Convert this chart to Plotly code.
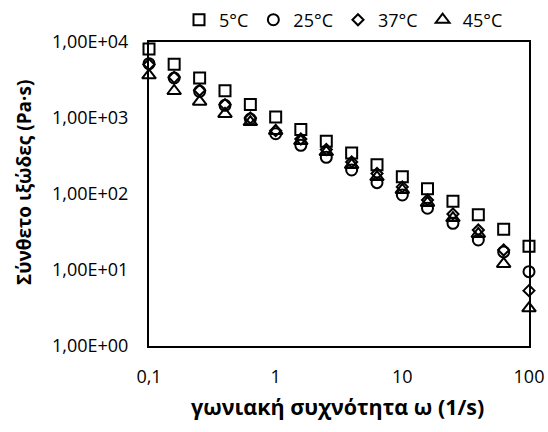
import plotly.graph_objects as go

# Angular frequency (1/s), five points per decade
freq = [0.1, 0.158, 0.251, 0.398, 0.631, 1.0, 1.58, 2.51, 3.98, 6.31,
        10.0, 15.8, 25.1, 39.8, 63.1, 100.0]

# Complex viscosity (Pa·s) at each temperature
eta_5 = [8090, 5090, 3360, 2280, 1500, 1030, 706, 494, 346, 243,
         169, 117, 80, 53.4, 34.3, 20.5]
eta_25 = [5180, 3360, 2245, 1470, 970, 621, 437, 304, 207, 141,
          97, 64.9, 41.1, 24.8, 17.3, 9.5]
eta_37 = [5060, 3430, 2315, 1500, 1000, 681, 530, 385, 264, 186,
          124, 83.4, 54.6, 33.6, 18.3, 5.35]
eta_45 = [3645, 2266, 1638, 1130, 885, 675, 498, 357, 241, 167,
          113, 76.2, 48.3, 29.8, 12.0, 3.13]

series_names = ["5°C", "25°C", "37°C", "45°C"]
series_values = [eta_5, eta_25, eta_37, eta_45]
symbols = ["square-open", "circle-open", "diamond-open", "triangle-up-open"]
sizes = [11, 11, 8.5, 12]

x_tickvals = [0.1, 1, 10, 100]
x_ticktext = ["0,1", "1", "10", "100"]
y_tickvals = [1, 10, 100, 1000, 10000]
y_ticktext = ["1,00E+00", "1,00E+01", "1,00E+02", "1,00E+03", "1,00E+04"]

FONT = "Open Sans"

fig = go.Figure()
for name, vals, sym, sz in zip(series_names, series_values, symbols, sizes):
    fig.add_trace(go.Scatter(
        x=freq, y=vals, name=name, mode="markers", cliponaxis=False,
        marker=dict(symbol=sym, size=sz, color="black",
                    line=dict(width=2, color="black")),
    ))

axis_common = dict(showline=True, mirror=True, linecolor="black", linewidth=2,
                   showgrid=False, zeroline=False, ticks="", automargin=False,
                   tickfont=dict(family=FONT, size=18, color="black"))

fig.update_xaxes(type="log", range=[-1, 2], tickvals=x_tickvals,
                 ticktext=x_ticktext, ticklabelstandoff=13, **axis_common)
fig.update_yaxes(type="log", range=[0, 4], tickvals=y_tickvals,
                 ticktext=y_ticktext, ticklabelstandoff=15, **axis_common)

fig.add_annotation(text="<b>γωνιακή συχνότητα ω (1/s)</b>", xref="paper", yref="paper",
                   x=0.496, y=-0.2, xanchor="center", yanchor="middle", showarrow=False,
                   font=dict(family=FONT, size=21.5, color="black"))
fig.add_annotation(text="<b>Σύνθετο ιξώδες (Pa·s)</b>", xref="paper", yref="paper",
                   x=-0.329, y=0.539, xanchor="center", yanchor="middle", showarrow=False,
                   textangle=-90, font=dict(family=FONT, size=19, color="black"))

fig.update_layout(
    width=548, height=432, autosize=False,
    margin=dict(l=149, r=19, t=42, b=86, autoexpand=False),
    paper_bgcolor="white", plot_bgcolor="white",
    font=dict(family=FONT, color="black"),
    legend=dict(orientation="h", xref="container", yref="container",
                x=179 / 548, y=1 - 20 / 432, xanchor="left", yanchor="middle",
                font=dict(family=FONT, size=18, color="black"),
                itemwidth=30, bgcolor="rgba(0,0,0,0)"),
)

fig.write_html("out.html")
